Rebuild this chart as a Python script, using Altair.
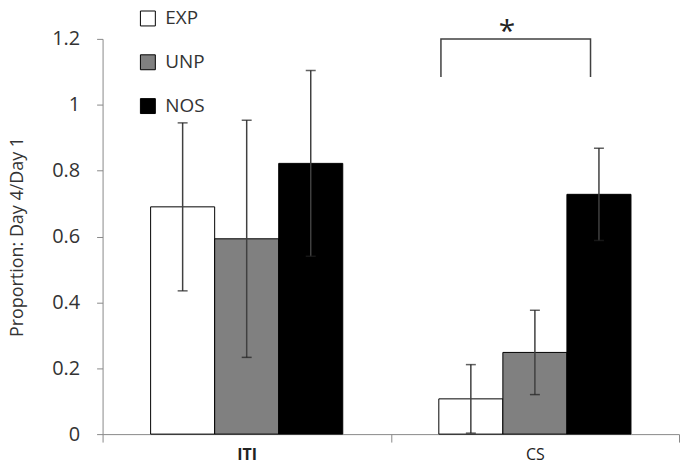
import altair as alt
import pandas as pd

conditions = ["ITI", "CS"]
groups = ["EXP", "UNP", "NOS"]
group_colors = ["white", "#808080", "black"]

means_iti = [0.69, 0.593, 0.822]
err_iti = [0.255, 0.36, 0.282]
means_cs = [0.107, 0.248, 0.728]
err_cs = [0.104, 0.128, 0.14]

# significance bracket (in a 0..2 category-position space, categories centred at 0.5 and 1.5)
bracket_x = [1.174, 1.174, 1.693, 1.693]
bracket_y = [1.084, 1.2, 1.2, 1.084]
star_x = [1.403]
star_y = [1.222]

rows = []
for cond, means, errs in [("ITI", means_iti, err_iti), ("CS", means_cs, err_cs)]:
    for g, m, e in zip(groups, means, errs):
        rows.append({"condition": cond, "group": g, "mean": m,
                     "lo": max(m - e, 0), "hi": m + e})
df = pd.DataFrame(rows)

bdf = pd.DataFrame({"bx": bracket_x, "by": bracket_y, "i": list(range(len(bracket_x)))})
sdf = pd.DataFrame({"sx": star_x, "sy": star_y})

FONT = "Open Sans"

x_enc = alt.X("condition:N", sort=conditions,
              scale=alt.Scale(paddingInner=0, paddingOuter=0),
              axis=alt.Axis(title=None, labelAngle=0, tickBand="extent",
                            domainColor="#888", tickColor="#888", tickSize=8,
                            labelFontSize=16, labelFont=FONT, labelColor="#222",
                            labelPadding=5,
                            labelFontWeight=alt.expr("datum.value == 'ITI' ? 'bold' : 'normal'")))
xo_enc = alt.XOffset("group:N", sort=groups,
                     scale=alt.Scale(paddingInner=0, paddingOuter=0.75))
y_scale = alt.Scale(domain=[0, 1.2], nice=False)

bars = alt.Chart(df).mark_bar(stroke="black", strokeWidth=1).encode(
    x=x_enc,
    xOffset=xo_enc,
    y=alt.Y("mean:Q", scale=y_scale,
            axis=alt.Axis(values=[0, 0.2, 0.4, 0.6, 0.8, 1.0, 1.2], format=".1~f",
                          grid=False, domainColor="#888", tickColor="#888", tickSize=6,
                          labelFontSize=20, labelFont=FONT, labelColor="#333",
                          labelPadding=17, title="Proportion: Day 4/Day 1",
                          titleFontSize=18, titleFont=FONT, titleFontWeight="normal",
                          titleColor="#333", titlePadding=25)),
    fill=alt.Fill("group:N", sort=groups,
                  scale=alt.Scale(domain=groups, range=group_colors),
                  legend=alt.Legend(orient="none", legendX=36, legendY=-30, title=None,
                                    symbolType="square", symbolSize=225,
                                    symbolStrokeColor="black", symbolStrokeWidth=1,
                                    labelFontSize=19, labelFont=FONT, labelColor="#333",
                                    rowPadding=24, labelOffset=8, direction="vertical")),
)

err = alt.Chart(df).mark_rule(color="#404040", strokeWidth=1.5).encode(
    x=alt.X("condition:N", sort=conditions), xOffset=alt.XOffset("group:N", sort=groups),
    y=alt.Y("lo:Q", scale=y_scale), y2="hi:Q")
cap_hi = alt.Chart(df).mark_tick(color="#202020", thickness=1.5, size=10).encode(
    x=alt.X("condition:N", sort=conditions), xOffset=alt.XOffset("group:N", sort=groups),
    y=alt.Y("hi:Q", scale=y_scale))
cap_lo = alt.Chart(df).mark_tick(color="#202020", thickness=1.5, size=10).encode(
    x=alt.X("condition:N", sort=conditions), xOffset=alt.XOffset("group:N", sort=groups),
    y=alt.Y("lo:Q", scale=y_scale))

bracket = alt.Chart(bdf).mark_line(color="#404040", strokeWidth=1.5).encode(
    x=alt.X("bx:Q", scale=alt.Scale(domain=[0, 2], nice=False), axis=None),
    y=alt.Y("by:Q", scale=y_scale),
    order="i:O")
star = alt.Chart(sdf).mark_text(text="*", fontSize=30, font=FONT, color="#222",
                                baseline="middle").encode(
    x=alt.X("sx:Q", scale=alt.Scale(domain=[0, 2], nice=False), axis=None),
    y=alt.Y("sy:Q", scale=y_scale))

main = alt.layer(bars, err, cap_hi, cap_lo)
annot = alt.layer(bracket, star)

chart = alt.layer(main, annot).resolve_scale(x="independent").properties(
    width=579, height=397, padding={"left": 0, "top": 0, "right": 0, "bottom": 0}
).configure_view(stroke=None)

chart.save("out.html", embed_options={"renderer": "svg", "actions": False})
